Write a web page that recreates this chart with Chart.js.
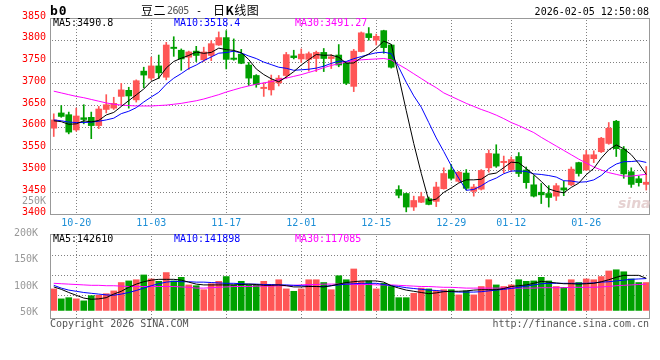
<!DOCTYPE html>
<html>
<head>
<meta charset="utf-8">
<script src="https://cdn.jsdelivr.net/npm/chart.js@4/dist/chart.umd.min.js"></script>
<style>
body{margin:0;background:#fff;}
#wrap{position:relative;width:660px;height:360px;overflow:hidden;font-family:"DejaVu Sans Mono",monospace;font-size:10px;color:#000;}
canvas{position:absolute;left:0;top:0;}
.t{position:absolute;white-space:nowrap;line-height:12px;}
.cjk{font-family:'Noto Sans CJK SC',sans-serif;font-size:12px;letter-spacing:0.5px;}
</style>
</head>
<body>
<div id="wrap">
  <canvas id="kc" width="660" height="360"></canvas>
  <canvas id="vc" width="660" height="360"></canvas>
  <div class="t" style="left:50px;top:5px;font-size:13px;font-weight:bold;letter-spacing:1px">b0</div>
  <div class="t cjk" style="left:141px;top:4px">豆二</div>
  <div class="t" style="left:167px;top:5px;color:#555;font-size:10px;letter-spacing:-0.6px">2605</div>
  <div class="t" style="left:196px;top:5px">-</div>
  <div class="t cjk" style="left:213px;top:4px">日<b>K</b>线图</div>
  <div class="t" style="right:11px;top:6px">2026-02-05 12:50:08</div>
  <div class="t" style="left:53px;top:17px">MA5:3490.8</div>
  <div class="t" style="left:174px;top:17px;color:#0000ff">MA10:3518.4</div>
  <div class="t" style="left:295px;top:17px;color:#ff00ff">MA30:3491.27</div>
  <div class="t" style="right:614px;top:195px;color:#999">250K</div>
  <div class="t" style="left:618px;top:195px;font:italic bold 14px 'DejaVu Sans',sans-serif;color:#e6d2d2">sina</div>
  <div class="t" style="left:53px;top:233px">MA5:142610</div>
  <div class="t" style="left:174px;top:233px;color:#0000ff">MA10:141898</div>
  <div class="t" style="left:295px;top:233px;color:#ff00ff">MA30:117085</div>
  <div class="t" style="left:50px;top:318px;color:#555">Copyright 2026 SINA.COM</div>
  <div class="t" style="right:11px;top:318px;color:#555">http://finance.sina.com.cn</div>
</div>
<script>
'use strict';
// trading days shown, 2025-10-15 .. 2026-02-05
const DATES = ['10-15','10-16','10-17','10-20','10-21','10-22','10-23','10-24','10-27','10-28',
  '10-29','10-30','10-31','11-03','11-04','11-05','11-06','11-07','11-10','11-11',
  '11-12','11-13','11-14','11-17','11-18','11-19','11-20','11-21','11-24','11-25',
  '11-26','11-27','11-28','12-01','12-02','12-03','12-04','12-05','12-08','12-09',
  '12-10','12-11','12-12','12-15','12-16','12-17','12-18','12-19','12-22','12-23',
  '12-24','12-25','12-26','12-29','12-30','12-31','01-05','01-06','01-07','01-08',
  '01-09','01-12','01-13','01-14','01-15','01-16','01-19','01-20','01-21','01-22',
  '01-23','01-26','01-27','01-28','01-29','01-30','02-02','02-03','02-04','02-05'];
const SHOWN = ['10-20','11-03','11-17','12-01','12-15','12-29','01-12','01-26'];

const OPEN = [3597,3632,3628,3593,3621,3622,3603,3640,3643,3670, 3684,3662,3728,3712,3740,3714,3783,3776,3760,3774,
  3754,3764,3788,3805,3758,3767,3742,3718,3688,3685, 3701,3718,3763,3756,3755,3757,3771,3757,3765,3747,
  3693,3773,3814,3799,3821,3788,3456,3447,3416,3427, 3435,3429,3458,3501,3475,3494,3452,3457,3506,3538,
  3518,3502,3532,3501,3467,3450,3447,3441,3460,3467, 3518,3501,3527,3543,3562,3613,3549,3497,3481,3468];
const HIGH = [3630,3649,3634,3643,3651,3634,3647,3674,3668,3700, 3691,3708,3737,3760,3765,3794,3807,3779,3774,3785,
  3783,3798,3818,3821,3802,3778,3748,3720,3701,3719, 3718,3771,3776,3779,3772,3774,3780,3766,3789,3749,
  3778,3818,3828,3813,3822,3789,3465,3448,3441,3450, 3439,3473,3506,3513,3498,3502,3468,3502,3547,3559,
  3533,3531,3541,3508,3488,3470,3465,3470,3475,3508, 3519,3546,3545,3576,3610,3615,3555,3506,3487,3509];
const LOW = [3578,3622,3584,3590,3607,3573,3596,3632,3640,3650, 3643,3657,3690,3708,3711,3708,3762,3730,3732,3750,
  3750,3752,3787,3733,3753,3745,3695,3691,3670,3673, 3694,3712,3756,3748,3728,3727,3727,3734,3738,3697,
  3681,3772,3799,3788,3769,3735,3437,3405,3408,3426, 3421,3417,3457,3478,3473,3455,3441,3455,3496,3507,
  3494,3497,3486,3459,3439,3424,3416,3431,3442,3465, 3487,3500,3518,3541,3560,3532,3482,3461,3464,3455];
const CLOSE = [3616,3624,3588,3625,3617,3603,3641,3651,3654,3685, 3671,3706,3719,3740,3724,3788,3780,3756,3772,3764,
  3772,3791,3805,3755,3755,3746,3712,3697,3691,3706, 3712,3766,3759,3767,3768,3771,3757,3761,3742,3700,
  3774,3816,3805,3808,3782,3737,3443,3416,3431,3440, 3422,3462,3493,3482,3496,3459,3462,3500,3539,3510,
  3521,3525,3493,3472,3441,3444,3438,3465,3455,3503, 3493,3536,3536,3574,3597,3550,3492,3468,3472,3473];

const MA5 = [3614,3612,3606,3607,3614.0,3611.4,3614.8,3627.4,3633.2,3646.8, 3660.4,3673.4,3687.0,3704.2,3712.0,3735.4,3750.2,3757.6,3764.0,3772.0,
  3768.8,3771.0,3780.8,3777.4,3775.6,3770.4,3754.6,3733.0,3720.2,3710.4, 3703.6,3714.4,3726.8,3742.0,3754.4,3766.2,3764.4,3764.8,3759.8,3746.2,
  3746.8,3758.6,3767.4,3780.6,3797.0,3789.6,3715.0,3637.2,3561.8,3493.4, 3430.4,3434.2,3449.6,3459.8,3471.0,3478.4,3478.4,3479.8,3491.2,3494.0,
  3506.4,3519.0,3517.6,3504.2,3490.4,3475.0,3457.6,3452.0,3448.6,3461.0, 3470.8,3490.4,3504.6,3528.4,3547.2,3558.6,3549.8,3536.2,3515.8,3490.8];
const MA10 = [3616,3614,3611,3610,3610,3611,3613,3616,3620,3630.4, 3635.9,3644.1,3657.2,3668.7,3679.4,3697.9,3711.8,3722.3,3734.1,3742.0,
  3752.1,3760.6,3769.2,3770.7,3773.8,3769.6,3762.8,3756.9,3748.8,3743.0, 3737.0,3734.5,3729.9,3731.1,3732.4,3734.9,3739.4,3745.8,3750.9,3750.3,
  3756.5,3761.5,3766.1,3770.2,3771.6,3768.2,3736.8,3702.3,3671.2,3645.2, 3610.0,3574.6,3543.4,3510.8,3482.2,3454.4,3456.3,3464.7,3475.5,3482.5,
  3492.4,3498.7,3498.7,3497.7,3492.2,3490.7,3488.3,3484.8,3476.4,3475.7, 3472.9,3474.0,3478.3,3488.5,3504.1,3514.7,3520.1,3520.4,3522.1,3518.4];
const MA30 = [3682,3678,3674,3670,3667,3663,3659,3655,3652,3650, 3649,3648,3648,3648,3649,3650,3652,3654,3657,3660,
  3664,3669,3674,3680,3685,3690,3694,3698,3701,3704, 3708,3712,3716,3720,3725,3730,3736,3741,3745,3749,
  3752,3754,3755,3756,3757,3754,3743,3733,3722,3711, 3700,3690,3678,3670,3662,3654,3647,3640,3634,3627,
  3619,3610,3603,3595,3587,3576,3566,3556,3546,3536, 3526,3517,3508,3501,3495,3491,3487,3487,3489,3491.27];

// volume, thousands of lots
const VOL_K = [116,91,94,91,86,99,100,104,111,132, 136,139,151,141,135,157,136,145,126,124,
  114,129,135,147,126,135,126,126,135,126, 139,116,110,116,139,139,132,114,149,139,
  166,135,136,116,130,122,94,94,105,118, 116,111,114,114,101,111,101,122,139,126,
  122,126,139,135,136,145,136,122,120,139, 132,141,139,147,161,164,159,141,132,132];
const VMA5 = [121,115,107,100,93,90,91,94,103,110, 120,128,134,138,140,140,140,138,133,128,
  126,126,126,126,126,127,128,127,125,125, 126,124,121,121,122,122,121,124,128,132,
  134,136,136,136,133,124,118,113,110,107, 104,106,109,110,110,111,113,114,114,114,
  117,122,124,126,130,135,133,131,129,129, 128,129,130,134,139,145,150,150,150,142.6];
const VMA10 = [125,118,113,110,107,105,103,101,100,103, 107,112,118,124,129,133,135,134,134,133,
  133,132,131,130,130,129,128,128,127,127, 126,126,125,124,123,122,122,124,126,128,
  129,130,130,130,127,124,122,119,117,115, 113,112,110,109,108,108,108,109,111,113,
  115,117,120,123,126,129,130,130,130,130, 130,130,131,133,134,136,138,140,141,141.9];
const VMA30 = [130,129,128,127,126,125,125,124,124,123, 122,122,122,122,122,122,122,121,120,118,
  118,119,120,121,122,122,122,123,123,123, 124,124,125,126,127,127,128,128,128,128,
  127,127,127,126,126,126,125,124,123,122, 122,121,120,120,119,118,118,118,118,118,
  118,118,118,118,118,119,119,119,119,120, 120,120,120,121,122,124,125,126,127,128];

const PRICE_TICKS = [3400,3450,3500,3550,3600,3650,3700,3750,3800,3850];
const VOL_LABEL_TICKS = [50,100,150,200];
const VOL_GRID_TICKS = [100,150,200];

const RED = '#ff5656', GREEN = '#00a000';
const MONO = '"DejaVu Sans Mono", monospace';
const GRID = '#808080';
const col = CLOSE.map((c,i) => c >= OPEN[i] ? RED : GREEN);

// dotted grid behind the marks, then a solid frame on top
function paintGrid(c){
  const a=c.chartArea, x=c.ctx, xs=c.scales.x, ys=c.scales.vy || c.scales.y;
  const L=Math.round(a.left), R=Math.round(a.right), T=Math.round(a.top), B=Math.round(a.bottom);
  x.save(); x.fillStyle=GRID;
  DATES.forEach((d,i)=>{
    if(!SHOWN.includes(d)) return;
    const px=Math.round(xs.getPixelForTick(i));
    for(let y=T+2; y<B; y+=3) x.fillRect(px,y,1,1);
  });
  ys.ticks.forEach(t=>{
    const py=Math.round(ys.getPixelForValue(t.value));
    if(py<=T+1||py>=B-1) return;
    for(let xx=L+2; xx<R; xx+=3) x.fillRect(xx,py,1,1);
  });
  x.restore();
}
const frame = {id:'frame',
  beforeDatasetsDraw(c){ paintGrid(c); },
  afterDraw(c){
    const a=c.chartArea, x=c.ctx;
    x.save(); x.strokeStyle='#999'; x.lineWidth=1;
    x.strokeRect(Math.round(a.left)+0.5, Math.round(a.top)+0.5, Math.round(a.right-a.left)-1, Math.round(a.bottom-a.top));
    x.restore();
  }};

const line = (data, color, axis) => ({type:'line', data, borderColor:color, borderWidth:1, pointRadius:0, tension:0, spanGaps:true, yAxisID:axis, order:0});

Chart.defaults.font.family = MONO;
Chart.defaults.font.size = 10;

new Chart(document.getElementById('kc'), {
  type:'bar',
  data:{labels:DATES, datasets:[
    line(MA5,'#000000','y'), line(MA10,'#0000ff','y'), line(MA30,'#ff00ff','y'),
    {type:'bar', data:OPEN.map((o,i)=>[o,CLOSE[i]]), backgroundColor:col, barThickness:6, grouped:false, order:1},
    {type:'bar', data:LOW.map((l,i)=>[l,HIGH[i]]), backgroundColor:col, barThickness:1, grouped:false, order:2}
  ]},
  options:{
    responsive:false, animation:false,
    layout:{padding:{left:0, top:18, right:10, bottom:126}},
    plugins:{legend:{display:false}, tooltip:{enabled:false}},
    scales:{
      x:{offset:true, grid:{display:false, drawTicks:false}, border:{display:false},
        ticks:{autoSkip:false, maxRotation:0, padding:3, color:'#1e8fd6',
          callback:(v,i)=>SHOWN.includes(DATES[i]) ? DATES[i] : ''},
        afterFit:s=>{s.height=20;}},
      y:{min:3400, max:3850,
        afterBuildTicks:s=>{s.ticks=PRICE_TICKS.map(v=>({value:v}));},
        grid:{display:false, drawTicks:false}, border:{display:false},
        ticks:{color:'#ff0000', padding:4, labelOffset:-2, callback:v=>String(v)},
        afterFit:s=>{s.width=50;}}
    }
  },
  plugins:[frame]
});

new Chart(document.getElementById('vc'), {
  type:'bar',
  data:{labels:DATES, datasets:[
    line(VMA5,'#000000','vy'), line(VMA10,'#0000ff','vy'), line(VMA30,'#ff00ff','vy'),
    {type:'bar', data:VOL_K, base:62, backgroundColor:col, barThickness:6, grouped:false, yAxisID:'vy', order:1}
  ]},
  options:{
    responsive:false, animation:false,
    layout:{padding:{left:0, top:234, right:10, bottom:42}},
    plugins:{legend:{display:false}, tooltip:{enabled:false}},
    scales:{
      x:{offset:true, grid:{display:false, drawTicks:false}, border:{display:false},
        ticks:{display:false}, afterFit:s=>{s.height=0;}},
      vy:{position:'left', min:43, max:253.75,
        afterBuildTicks:s=>{s.ticks=VOL_GRID_TICKS.map(v=>({value:v}));},
        grid:{display:false, drawTicks:false}, border:{display:false},
        ticks:{display:false}, afterFit:s=>{s.width=0;}},
      yl:{position:'left', min:42, max:200,
        afterBuildTicks:s=>{s.ticks=VOL_LABEL_TICKS.map(v=>({value:v}));},
        grid:{display:false}, border:{display:false},
        ticks:{color:'#999', padding:4, labelOffset:-1, callback:v=>v+'K'},
        afterFit:s=>{s.width=50;}}
    }
  },
  plugins:[frame]
});
</script>
</body>
</html>
